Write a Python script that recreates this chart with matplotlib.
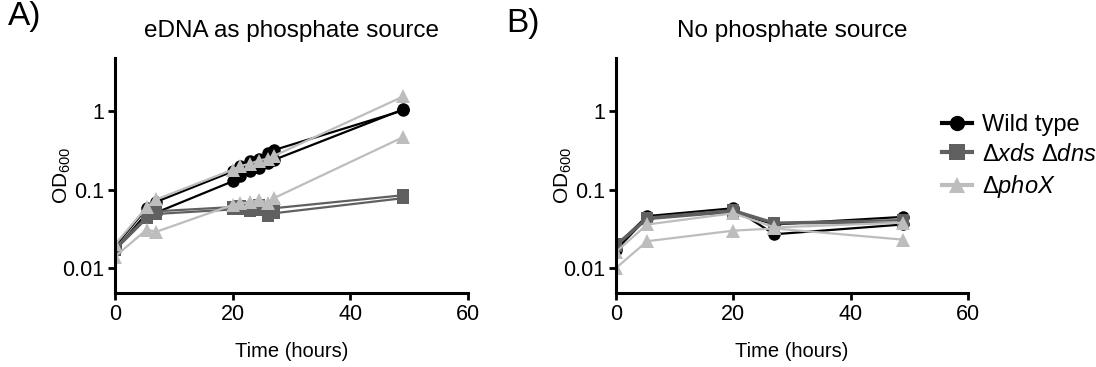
import matplotlib
matplotlib.use("Agg")
import matplotlib.pyplot as plt
from matplotlib.lines import Line2D

plt.rcParams['font.family'] = ['Liberation Sans', 'DejaVu Sans']
plt.rcParams['mathtext.fontset'] = 'custom'
plt.rcParams['mathtext.rm'] = 'Liberation Sans'
plt.rcParams['mathtext.it'] = 'Liberation Sans:italic'

# sampling times (hours)
t_a = [0, 5.4, 7, 20, 21.3, 23, 24.4, 26, 27, 49]
t_b = [0, 5.3, 20, 27, 49]

# panel A: eDNA as phosphate source (two replicates per strain)
wt_a1 = [0.019, 0.058, 0.070, 0.171, 0.198, 0.23, 0.25, 0.29, 0.32, 1.03]
wt_a2 = [0.017, 0.050, 0.051, 0.128, 0.148, 0.171, 0.19, 0.22, 0.24, 1.06]
xds_a1 = [0.018, 0.045, 0.053, 0.060, 0.062, 0.060, 0.064, 0.061, 0.058, 0.085]
xds_a2 = [0.017, 0.043, 0.049, 0.056, 0.057, 0.053, 0.055, 0.046, 0.050, 0.078]
phox_a1 = [0.020, 0.060, 0.075, 0.18, 0.20, 0.215, 0.235, 0.25, 0.27, 1.55]
phox_a2 = [0.014, 0.031, 0.029, 0.064, 0.067, 0.069, 0.074, 0.068, 0.078, 0.47]

# panel B: no phosphate source
wt_b1 = [0.019, 0.046, 0.058, 0.027, 0.036]
wt_b2 = [0.017, 0.044, 0.052, 0.036, 0.045]
xds_b1 = [0.020, 0.044, 0.055, 0.038, 0.041]
xds_b2 = [0.019, 0.042, 0.052, 0.037, 0.038]
phox_b1 = [0.016, 0.036, 0.050, 0.033, 0.038]
phox_b2 = [0.010, 0.022, 0.030, 0.032, 0.023]

labels = ["Wild type", r"$\Delta\mathit{xds}\ \Delta\mathit{dns}$", r"$\Delta\mathit{phoX}$"]
colors = ["#000000", "#606060", "#bdbdbd"]
markers = ["o", "s", "^"]

fig = plt.figure(figsize=(10.96, 3.67), dpi=100)
ax1 = fig.add_axes([115/1096, 1-293/367, 353/1096, 235/367])
ax2 = fig.add_axes([616/1096, 1-293/367, 352/1096, 235/367])

panels = [
    (ax1, t_a, [[wt_a1, wt_a2], [xds_a1, xds_a2], [phox_a1, phox_a2]], "eDNA as phosphate source"),
    (ax2, t_b, [[wt_b1, wt_b2], [xds_b1, xds_b2], [phox_b1, phox_b2]], "No phosphate source"),
]

for ax, t, groups, title in panels:
    for reps, c, m in zip(groups, colors, markers):
        for y in reps:
            ax.plot(t, y, color=c, marker=m, markersize=9 if m != "^" else 9.5,
                    linewidth=1.6, markeredgewidth=0)
    ax.set_yscale("log")
    ax.set_ylim(0.0048, 4.8)
    ax.set_xlim(0, 60)
    ax.set_xticks([0, 20, 40, 60])
    ax.set_yticks([0.01, 0.1, 1])
    ax.set_yticklabels(["0.01", "0.1", "1"])
    ax.minorticks_off()
    ax.spines["top"].set_visible(False)
    ax.spines["right"].set_visible(False)
    for s in ["left", "bottom"]:
        ax.spines[s].set_linewidth(2.2)
    ax.tick_params(width=2, length=5, labelsize=15.5, pad=3)
    ax.set_title(title, fontsize=17.5, pad=15)
    ax.set_xlabel("Time (hours)", fontsize=14.5, labelpad=12)
    ax.set_ylabel(r"OD$_{600}$", fontsize=15)
    ax.yaxis.set_label_coords(-0.118, 0.5)

fig.text(8/1096, 1-25/367, "A)", fontsize=24, va="baseline")
fig.text(506/1096, 1-32/367, "B)", fontsize=24, va="baseline")

handles = [Line2D([], [], color=c, marker=m, markersize=11, linewidth=3, markeredgewidth=0)
           for c, m in zip(colors, markers)]
fig.legend(handles, labels, loc="upper left", bbox_to_anchor=(942/1096, 1-114/367),
           frameon=False, fontsize=17, handlelength=1.25, handletextpad=0.45,
           labelspacing=0.32, borderpad=0, borderaxespad=0)

fig.savefig("out.png", dpi=100)
